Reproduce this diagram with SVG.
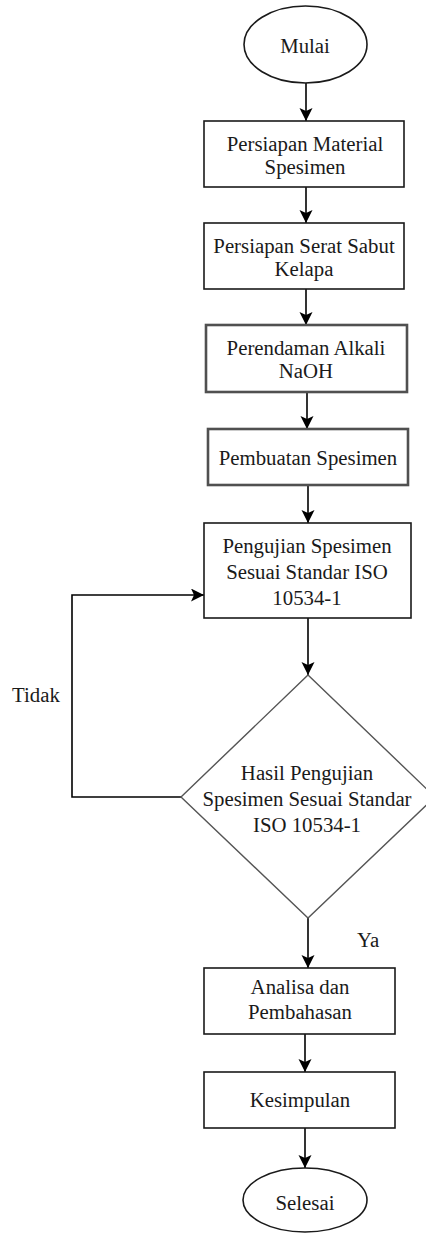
<svg xmlns="http://www.w3.org/2000/svg" width="426" height="1234" viewBox="0 0 426 1234">
<style>
.bg{fill:#ffffff}
.box{fill:#ffffff;stroke:#1a1a1a;stroke-width:1.6}
.box2{fill:#ffffff;stroke:#505050;stroke-width:2.6}
.dia{fill:#ffffff;stroke:#555555;stroke-width:1.4}
.t{font-family:"Liberation Serif","Times New Roman",serif;font-size:20.8px;fill:#1a1a1a;text-anchor:middle}
.lbl{font-family:"Liberation Serif","Times New Roman",serif;font-size:20.8px;fill:#1a1a1a}
.c{fill:none;stroke:#000000;stroke-width:1.6}
</style>
<defs>
<marker id="ah" markerUnits="userSpaceOnUse" markerWidth="14" markerHeight="14" refX="13" refY="6.5" orient="auto">
<path d="M0,0 L13,6.5 L0,13 L3,6.5 z" fill="#000000"/>
</marker>
</defs>
<rect class="bg" x="0" y="0" width="426" height="1234"/>
<g id="connectors">
<line class="c" x1="306" y1="83" x2="306" y2="121" marker-end="url(#ah)"/>
<line class="c" x1="306" y1="187" x2="306" y2="223" marker-end="url(#ah)"/>
<line class="c" x1="306" y1="289" x2="306" y2="325" marker-end="url(#ah)"/>
<line class="c" x1="307" y1="392" x2="307" y2="429" marker-end="url(#ah)"/>
<line class="c" x1="308" y1="485" x2="308" y2="523" marker-end="url(#ah)"/>
<line class="c" x1="308" y1="618" x2="308" y2="675" marker-end="url(#ah)"/>
<polyline class="c" points="181,797 72,797 72,595 204,595" marker-end="url(#ah)"/>
<line class="c" x1="308" y1="918" x2="308" y2="968" marker-end="url(#ah)"/>
<line class="c" x1="305" y1="1034" x2="305" y2="1072" marker-end="url(#ah)"/>
<line class="c" x1="305" y1="1128" x2="305" y2="1168" marker-end="url(#ah)"/>
<text class="lbl" x="12" y="702">Tidak</text>
<text class="lbl" x="357" y="947">Ya</text>
</g>
<g id="mulai">
<ellipse class="box" cx="305.5" cy="44.5" rx="61.5" ry="38.5"/>
<text class="t" x="305" y="53">Mulai</text>
</g>
<g id="persiapan-material">
<rect class="box" x="204" y="121" width="200" height="66"/>
<text class="t" x="305" y="151">Persiapan Material</text>
<text class="t" x="305" y="174">Spesimen</text>
</g>
<g id="persiapan-serat">
<rect class="box" x="204" y="223" width="200" height="66"/>
<text class="t" x="304" y="253">Persiapan Serat Sabut</text>
<text class="t" x="304" y="276">Kelapa</text>
</g>
<g id="perendaman">
<rect class="box2" x="206" y="325" width="201" height="67"/>
<text class="t" x="306" y="355">Perendaman Alkali</text>
<text class="t" x="306" y="378">NaOH</text>
</g>
<g id="pembuatan">
<rect class="box2" x="208" y="429" width="200" height="56"/>
<text class="t" x="308" y="465">Pembuatan Spesimen</text>
</g>
<g id="pengujian">
<rect class="box" x="204" y="523" width="207" height="95"/>
<text class="t" x="307" y="553">Pengujian Spesimen</text>
<text class="t" x="307" y="579">Sesuai Standar ISO</text>
<text class="t" x="307" y="605">10534-1</text>
</g>
<g id="keputusan">
<polygon class="dia" points="308,675 435,797 308,918 181,797"/>
<text class="t" x="307" y="780">Hasil Pengujian</text>
<text class="t" x="307" y="806">Spesimen Sesuai Standar</text>
<text class="t" x="307" y="832">ISO 10534-1</text>
</g>
<g id="analisa">
<rect class="box" x="204" y="968" width="191" height="66"/>
<text class="t" x="300" y="994">Analisa dan</text>
<text class="t" x="300" y="1019">Pembahasan</text>
</g>
<g id="kesimpulan">
<rect class="box" x="204" y="1072" width="191" height="56"/>
<text class="t" x="300" y="1107">Kesimpulan</text>
</g>
<g id="selesai">
<ellipse class="box" cx="305" cy="1200" rx="62" ry="32"/>
<text class="t" x="305" y="1210">Selesai</text>
</g>
</svg>
